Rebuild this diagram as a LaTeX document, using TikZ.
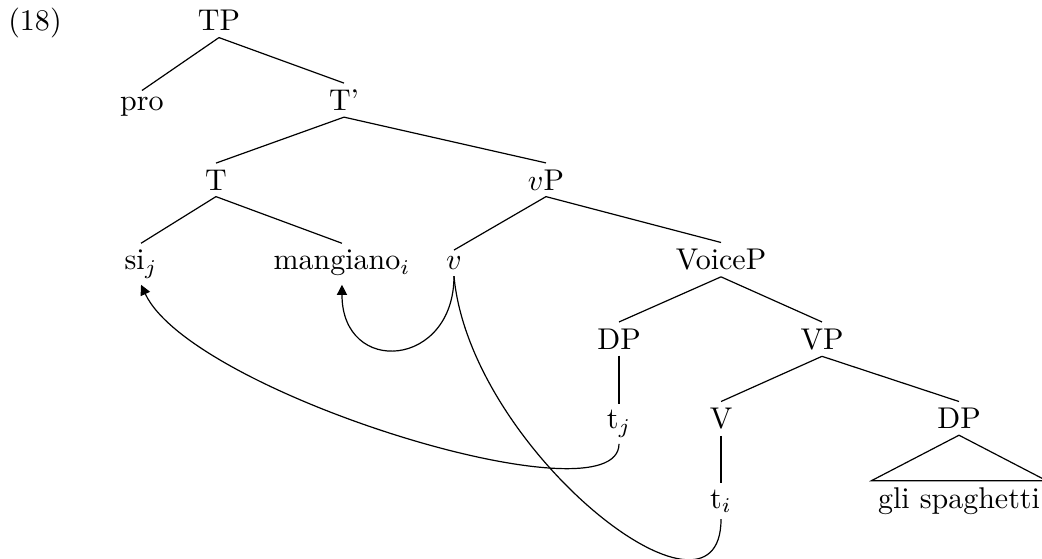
\documentclass[tikz,border=0pt]{standalone}
\usetikzlibrary{arrows.meta}

\begin{document}
\begin{tikzpicture}[
  cat/.style={anchor=base, inner sep=2pt},
  mv/.style={-{Triangle[length=3.4pt,width=3.4pt]}}
]
\useasboundingbox (0,0) rectangle (12.206,-6.548);

% levels of the tree
\def\la{-0.363}
\def\lb{-1.295}
\def\lc{-2.226}
\def\ld{-3.158}
\def\le{-4.089}
\def\lf{-5.021}
\def\lg{-5.952}

\node[cat] (ex) at (0.41,\la) {(18)};

\node[cat] (tp) at (2.565,\la) {TP};
\node[cat] (pro) at (1.663,\lb) {pro};
\node[cat] (tbar) at (4.030,\lb) {T'};
\node[cat] (t) at (2.530,\lc) {T};
\node[cat] (vp) at (6.396,\lc) {$v$P};
\node[cat] (si) at (1.652,\ld) {si$_j$};
\node[cat] (mang) at (4.006,\ld) {mangiano$_i$};
\node[cat] (v) at (5.318,\ld) {$v$};
\node[cat] (voicep) at (8.446,\ld) {VoiceP};
\node[cat] (dp) at (7.251,\le) {DP};
\node[cat] (vbig) at (9.629,\le) {VP};
\node[cat] (tj) at (7.251,\lf) {t$_j$};
\node[cat] (vhead) at (8.446,\lf) {V};
\node[cat] (obj) at (11.234,\lf) {DP};
\node[cat] (ti) at (8.446,\lg) {t$_i$};
\node[cat] (spag) at (11.234,\lg) {gli spaghetti};

% branches
\draw (tp.south) -- (pro.north);
\draw (tp.south) -- (tbar.north);
\draw (tbar.south) -- (t.north);
\draw (tbar.south) -- (vp.north);
\draw (t.south) -- (si.north);
\draw (t.south) -- (mang.north);
\draw (vp.south) -- (v.north);
\draw (vp.south) -- (voicep.north);
\draw (voicep.south) -- (dp.north);
\draw (voicep.south) -- (vbig.north);
\draw (dp.south) -- (tj.north);
\draw (vbig.south) -- (vhead.north);
\draw (vbig.south) -- (obj.north);
\draw (vhead.south) -- (ti.north);
\draw (obj.south) -- (spag.north west) -- (spag.north east) -- cycle;

% movement
\draw[mv] (tj.south) .. controls +(0,-0.937) and +(0.597,-1.277) .. (si.south);
\draw[mv] (v.south) .. controls +(0,-1.078) and +(0,-1.078) .. (mang.south |- si.south);
\draw (v.south) .. controls +(0.187,-2.038) and +(0,-1.488) .. (ti.south);
\end{tikzpicture}
\end{document}
